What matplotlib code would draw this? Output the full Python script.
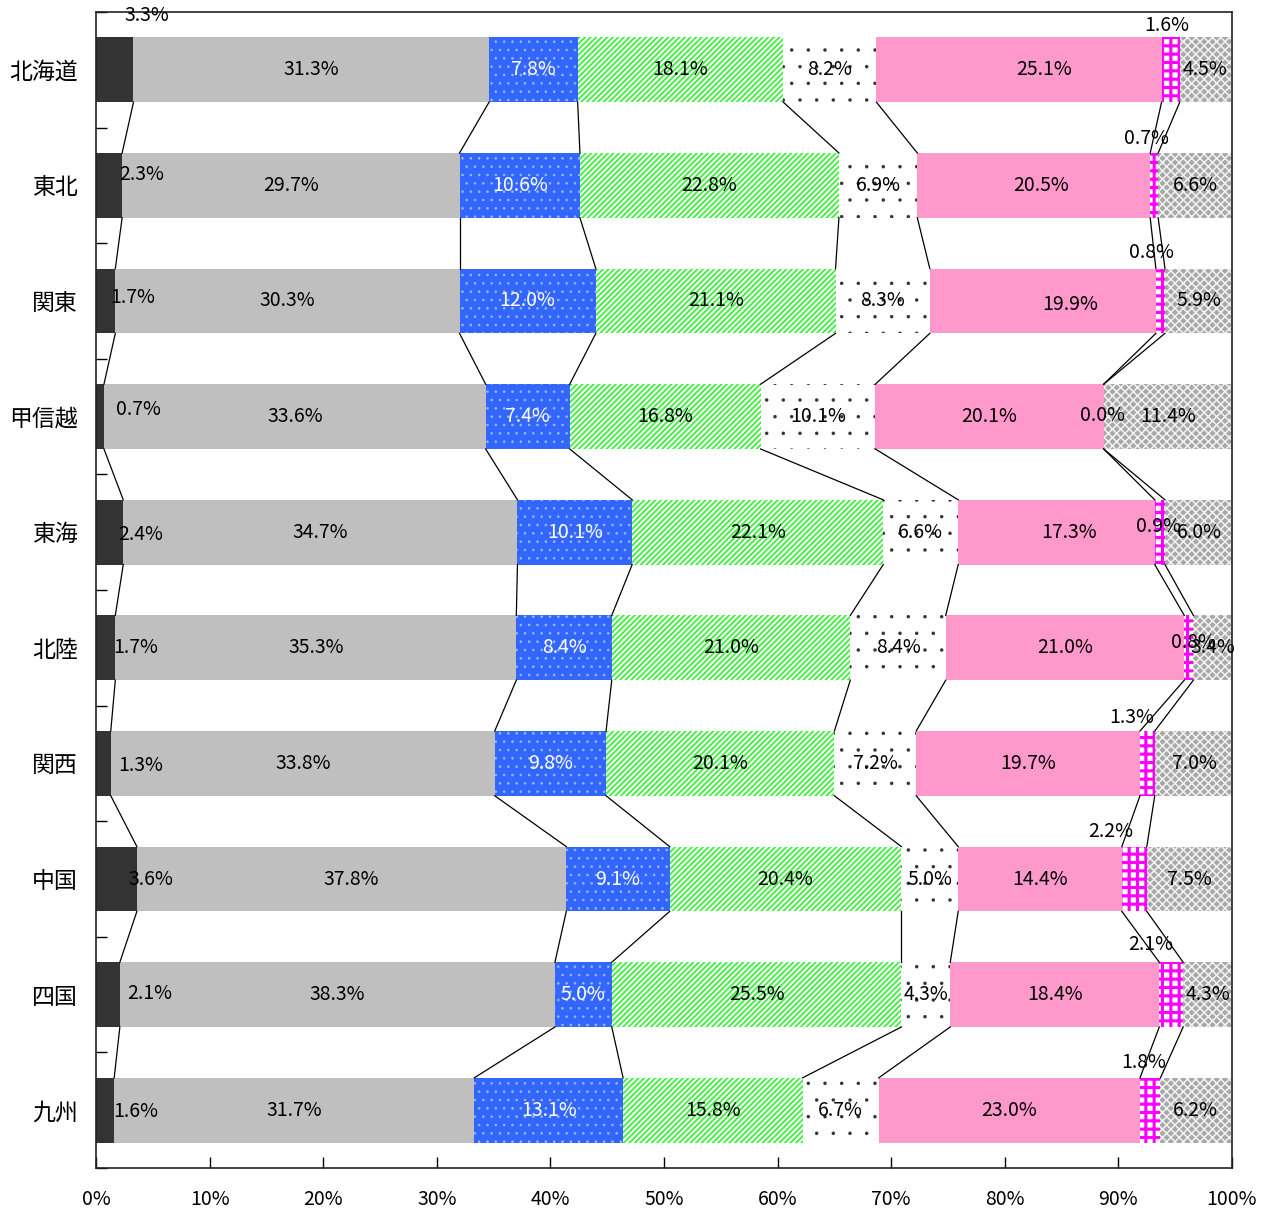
import matplotlib
matplotlib.use("Agg")
import matplotlib.pyplot as plt
import numpy as np

plt.rcParams['font.family'] = ['Noto Sans CJK JP', 'DejaVu Sans']

regions = ["北海道", "東北", "関東", "甲信越", "東海", "北陸", "関西", "中国", "四国", "九州"]
seg1 = [3.3, 2.3, 1.7, 0.7, 2.4, 1.7, 1.3, 3.6, 2.1, 1.6]
seg2 = [31.3, 29.7, 30.3, 33.6, 34.7, 35.3, 33.8, 37.8, 38.3, 31.7]
seg3 = [7.8, 10.6, 12.0, 7.4, 10.1, 8.4, 9.8, 9.1, 5.0, 13.1]
seg4 = [18.1, 22.8, 21.1, 16.8, 22.1, 21.0, 20.1, 20.4, 25.5, 15.8]
seg5 = [8.2, 6.9, 8.3, 10.1, 6.6, 8.4, 7.2, 5.0, 4.3, 6.7]
seg6 = [25.1, 20.5, 19.9, 20.1, 17.3, 21.0, 19.7, 14.4, 18.4, 23.0]
seg7 = [1.6, 0.7, 0.8, 0.0, 0.9, 0.8, 1.3, 2.2, 2.1, 1.8]
seg8 = [4.5, 6.6, 5.9, 11.4, 6.0, 3.4, 7.0, 7.5, 4.3, 6.2]
xticklabels = ["0%", "10%", "20%", "30%", "40%", "50%", "60%", "70%", "80%", "90%", "100%"]

# manually placed labels for the narrow segments (x in %, y in slot units)
seg1_label_pos = [(4.5, 0.03), (4.05, 1.41), (3.2, 2.47), (3.7, 3.44), (3.9, 4.52),
                  (3.5, 5.50), (3.9, 6.52), (4.85, 7.50), (4.75, 8.49), (3.5, 9.51)]
seg7_label_pos = [(94.3, 0.12), (92.5, 1.09), (92.9, 2.08), (88.6, 3.49), (93.5, 4.45),
                  (96.6, 5.45), (91.2, 6.10), (89.3, 7.09), (92.8, 8.07), (92.2, 9.09)]
# label nudges for the pink segment (x in %, y in slot units)
seg6_label_nudge = [(2.2, 0.0), (0.6, 0.0), (2.4, 0.03), (0, 0), (1.1, 0.0),
                    (0, 0), (0, 0), (0, 0), (0, 0), (0, 0)]

series = [seg1, seg2, seg3, seg4, seg5, seg6, seg7, seg8]
styles = [
    dict(facecolor="#333333", edgecolor="#333333", hatch=None, hlw=1.0),
    dict(facecolor="#BFBFBF", edgecolor="#BFBFBF", hatch=None, hlw=1.0),
    dict(facecolor="#3366FF", edgecolor="#9DBBFF", hatch="..", hlw=0.6),
    dict(facecolor="white", edgecolor="#3CF03C", hatch="//////", hlw=1.3),
    dict(facecolor="white", edgecolor="#333333", hatch=".", hlw=0.1),
    dict(facecolor="#FF99CC", edgecolor="#FF99CC", hatch=None, hlw=1.0),
    dict(facecolor="white", edgecolor="#FF00FF", hatch="++", hlw=2.2),
    dict(facecolor="#A8A8A8", edgecolor="#F2F2F2", hatch="xxxx", hlw=1.1),
]
text_colors = ["black", "black", "white", "black", "black", "black", "black", "black"]

fig = plt.figure(figsize=(12.67, 12.12), dpi=100)
ax = fig.add_axes([96 / 1267, 1 - 1168 / 1212, (1232 - 96) / 1267, (1168 - 12) / 1212])

n = len(regions)
ypos = np.arange(n) + 0.5
bar_h = 0.56
data = np.array(series)
cum = np.cumsum(data, axis=0)
left = np.vstack([np.zeros(n), cum[:-1]])

for k, (vals, st) in enumerate(zip(series, styles)):
    with plt.rc_context({'hatch.linewidth': st['hlw']}):
        bars = ax.barh(ypos, vals, left=left[k], height=bar_h,
                       facecolor=st['facecolor'], edgecolor=st['edgecolor'],
                       hatch=st['hatch'], linewidth=0, zorder=2)
        for b in bars:
            if hasattr(b, "set_hatch_linewidth"):
                b.set_hatch_linewidth(st['hlw'])

# connecting lines between bars at segment boundaries
for k in range(len(series) - 1):
    for i in range(n - 1):
        ax.plot([cum[k][i], cum[k][i + 1]], [ypos[i] + bar_h / 2, ypos[i + 1] - bar_h / 2],
                color="black", lw=0.9, zorder=3)

# labels
fs = 14
for k, vals in enumerate(series):
    for i, v in enumerate(vals):
        if k == 0:
            x, y = seg1_label_pos[i]
        elif k == 6:
            x, y = seg7_label_pos[i]
        else:
            x, y = left[k][i] + v / 2, ypos[i]
            if k == 5:
                x += seg6_label_nudge[i][0]
                y += seg6_label_nudge[i][1]
        ax.text(x, y, f"{v:.1f}%", ha="center", va="center", fontsize=fs,
                color=text_colors[k], zorder=5)

ax.set_xlim(0, 100)
ax.set_ylim(n, 0)
ax.set_xticks(np.arange(0, 101, 10))
ax.set_xticklabels(xticklabels, fontsize=14)
ax.set_yticks(ypos)
ax.set_yticklabels(regions, fontsize=16.5)
ax.set_yticks(np.arange(0, n + 1), minor=True)
ax.tick_params(axis='y', which='major', length=0, pad=13)
ax.tick_params(axis='y', which='minor', length=8, direction='in', width=1)
ax.tick_params(axis='x', which='major', length=8, direction='in', width=1, pad=15)
for s in ax.spines.values():
    s.set_linewidth(1.2)
    s.set_color("#222222")

fig.savefig("out.png", dpi=100)
